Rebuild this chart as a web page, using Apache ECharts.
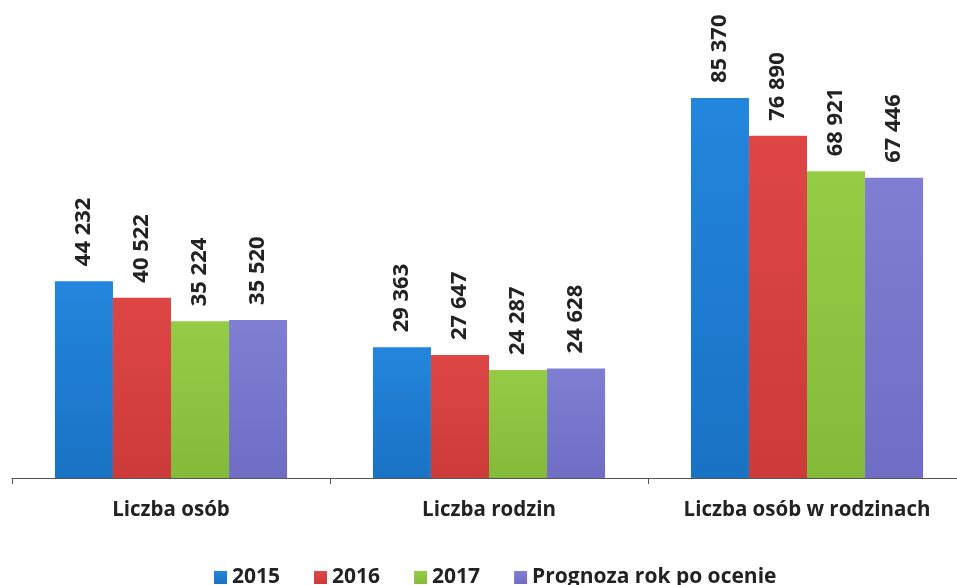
<!DOCTYPE html>
<html>
<head>
<meta charset="utf-8">
<script src="https://cdn.jsdelivr.net/npm/echarts@6/dist/echarts.min.js"></script>
<style>html,body{margin:0;padding:0;background:#fff;overflow:hidden;width:957px;height:585px}#c{width:990px;height:585px}</style>
</head>
<body>
<div id="c"></div>
<script>
const categories = ['Liczba osób', 'Liczba rodzin', 'Liczba osób w rodzinach'];
const seriesNames = ['2015', '2016', '2017', 'Prognoza rok po ocenie'];
const v2015 = [44232, 29363, 85370];
const v2016 = [40522, 27647, 76890];
const v2017 = [35224, 24287, 68921];
const vPrognoza = [35520, 24628, 67446];
const seriesValues = [v2015, v2016, v2017, vPrognoza];
const colors = [['#2386dc', '#1a72c4'], ['#de4646', '#cc3a3a'], ['#94cc46', '#84ba3a'], ['#807ed3', '#706ec4']];

const fmt = v => String(v).replace(/\B(?=(\d{3})+(?!\d))/g, ' ');

const chart = echarts.init(document.getElementById('c'));
chart.setOption({
  animation: false,
  grid: { left: 12, width: 954, top: 33, bottom: 107, containLabel: false },
  legend: {
    data: seriesNames,
    left: 209,
    top: 562,
    itemWidth: 13,
    itemHeight: 13,
    itemGap: 34,
    icon: 'rect',
    textStyle: { fontFamily: 'Open Sans', fontWeight: 'bold', fontSize: 21, color: '#222' }
  },
  xAxis: {
    type: 'category',
    data: categories,
    axisLine: { show: true, lineStyle: { color: '#555', width: 1 } },
    axisTick: { show: true, interval: 0, inside: false, length: 6, lineStyle: { color: '#555' } },
    axisLabel: { interval: 0, hideOverlap: false, margin: 22, fontFamily: 'Open Sans', fontWeight: 'bold', fontSize: 20.5, color: '#222' }
  },
  yAxis: {
    type: 'value', min: 0, max: 100000,
    show: false,
    splitLine: { show: false }
  },
  series: seriesNames.map((name, i) => ({
    name,
    type: 'bar',
    data: seriesValues[i],
    barGap: '0%',
    barCategoryGap: '27%',
    itemStyle: {
      color: new echarts.graphic.LinearGradient(0, 0, 0, 1, [
        { offset: 0, color: colors[i][0] },
        { offset: 1, color: colors[i][1] }
      ])
    },
    label: {
      show: true,
      position: 'top',
      rotate: 90,
      align: 'left',
      verticalAlign: 'middle',
      distance: 15,
      formatter: p => fmt(p.value),
      fontFamily: 'Open Sans',
      fontWeight: 'bold',
      fontSize: 22,
      color: '#222'
    }
  }))
});
</script>
</body>
</html>
